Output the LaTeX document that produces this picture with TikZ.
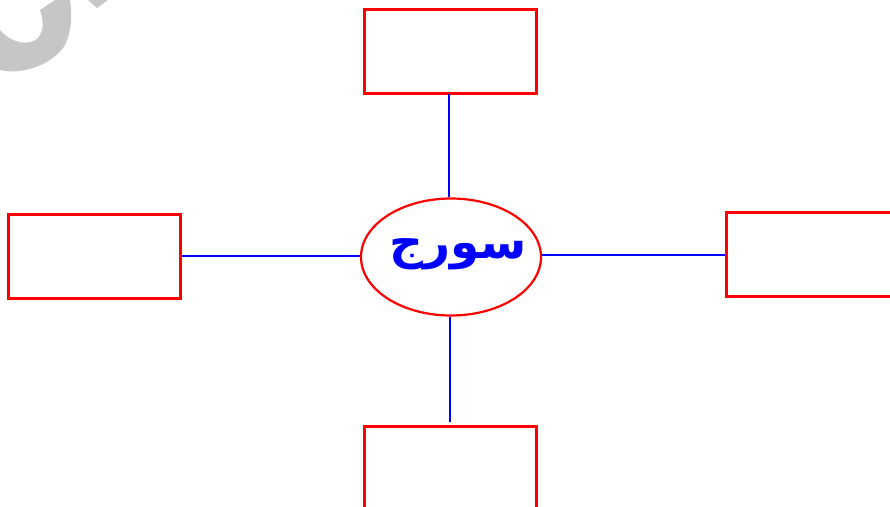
\documentclass[tikz,border=0pt]{standalone}
\usepackage{fontspec}
\usetikzlibrary{shapes.geometric}
\newfontfamily\arabicfont[Script=Arabic]{DejaVu Sans}
\TeXXeTstate=1
\begin{document}
\begin{tikzpicture}[x=1pt,y=-1pt,
  boxst/.style={draw=red,line width=3pt,minimum width=172pt,minimum height=84pt,inner sep=0pt,anchor=north west},
  link/.style={draw=blue,line width=2.8pt}]
\useasboundingbox (0,0) rectangle (890,506);
\fill[gray!45] (55,0) -- (40,10) .. controls (44,22) and (44,30) .. (38,38) .. controls (30,46) and (12,44) .. (0,30) -- (0,70) .. controls (25,76) and (55,62) .. (65,45) .. controls (72,30) and (72,15) .. (70,0) -- cycle;
\fill[gray!45] (88,0) -- (108,0) -- (97,8) -- cycle;
\node[boxst] (top) at (363,8) {};
\node[boxst] (left) at (7,213) {};
\node[boxst,minimum width=180pt] (right) at (725,211) {};
\node[boxst,minimum height=100pt] (bottom) at (363,425) {};
\node[draw=red,line width=2.2pt,ellipse,minimum width=180pt,minimum height=117pt,inner sep=0pt] (sun) at (451,257) {};
\node[text=blue,font=\arabicfont\bfseries\fontsize{47}{54}\selectfont] (word) at (458,254) {\beginR سورج\endR};
\draw[link] (449,94) -- (sun.north -| 449,0);
\draw[link] (left.east |- 0,256) -- (sun.west |- 0,256);
\draw[link] (sun.east |- 0,255) -- (right.west |- 0,255);
\draw[link] (sun.south -| 450,0) -- (450,422);
\end{tikzpicture}
\end{document}
